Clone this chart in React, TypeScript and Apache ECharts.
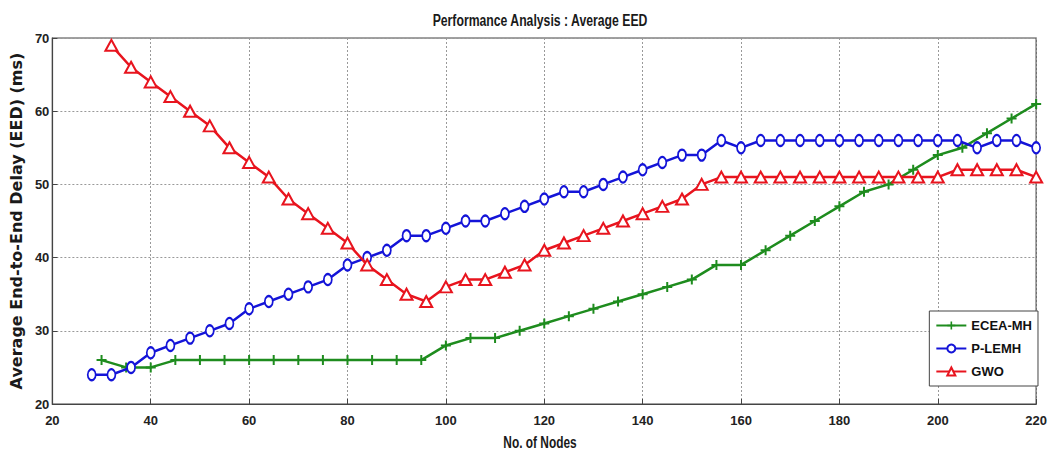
import React, { useEffect, useRef } from "react";
import * as echarts from "echarts";

const titleText = "Performance Analysis : Average EED";
const xName = "No. of Nodes";
const yName = "Average End-to-End Delay (EED) (ms)";

const ecaX = [30, 35, 40, 45, 50, 55, 60, 65, 70, 75, 80, 85, 90, 95, 100, 105, 110, 115, 120, 125, 130, 135, 140, 145, 150, 155, 160, 165, 170, 175, 180, 185, 190, 195, 200, 205, 210, 215, 220];
const ecaY = [26, 25, 25, 26, 26, 26, 26, 26, 26, 26, 26, 26, 26, 26, 28, 29, 29, 30, 31, 32, 33, 34, 35, 36, 37, 39, 39, 41, 43, 45, 47, 49, 50, 52, 54, 55, 57, 59, 61];

const plemhX = [28, 32, 36, 40, 44, 48, 52, 56, 60, 64, 68, 72, 76, 80, 84, 88, 92, 96, 100, 104, 108, 112, 116, 120, 124, 128, 132, 136, 140, 144, 148, 152, 156, 160, 164, 168, 172, 176, 180, 184, 188, 192, 196, 200, 204, 208, 212, 216, 220];
const plemhY = [24, 24, 25, 27, 28, 29, 30, 31, 33, 34, 35, 36, 37, 39, 40, 41, 43, 43, 44, 45, 45, 46, 47, 48, 49, 49, 50, 51, 52, 53, 54, 54, 56, 55, 56, 56, 56, 56, 56, 56, 56, 56, 56, 56, 56, 55, 56, 56, 55];

const gwoX = [32, 36, 40, 44, 48, 52, 56, 60, 64, 68, 72, 76, 80, 84, 88, 92, 96, 100, 104, 108, 112, 116, 120, 124, 128, 132, 136, 140, 144, 148, 152, 156, 160, 164, 168, 172, 176, 180, 184, 188, 192, 196, 200, 204, 208, 212, 216, 220];
const gwoY = [69, 66, 64, 62, 60, 58, 55, 53, 51, 48, 46, 44, 42, 39, 37, 35, 34, 36, 37, 37, 38, 39, 41, 42, 43, 44, 45, 46, 47, 48, 50, 51, 51, 51, 51, 51, 51, 51, 51, 51, 51, 51, 51, 52, 52, 52, 52, 51];

const pair = (xs: number[], ys: number[]) => xs.map((x, i) => [x, ys[i]]);

const FONT = "'Liberation Sans', Arial, sans-serif";
const WIDE = "'DejaVu Sans', sans-serif";
const GREEN = "#1e8c1e";
const BLUE = "#1414d8";
const RED = "#e8141e";
const PLUS = "path://M4,0 L6,0 L6,4 L10,4 L10,6 L6,6 L6,10 L4,10 L4,6 L0,6 L0,4 L4,4 Z";

export default function App() {
  const ref = useRef<HTMLDivElement>(null);
  useEffect(() => {
    if (!ref.current) return;
    const chart = echarts.init(ref.current, null, { renderer: "svg" });
    chart.setOption({
      animation: false,
      backgroundColor: "#ffffff",
      graphic: [
        {
          type: "text",
          x: 540,
          y: 20,
          scaleX: 0.72,
          style: {
            text: titleText,
            fontFamily: FONT,
            fontSize: 17,
            fontWeight: "bold",
            fill: "#1a1a1a",
            align: "center",
            verticalAlign: "middle",
          },
        },
        {
          type: "text",
          x: 540,
          y: 442,
          scaleX: 0.7,
          style: {
            text: xName,
            fontFamily: FONT,
            fontSize: 17,
            fontWeight: "bold",
            fill: "#1a1a1a",
            align: "center",
            verticalAlign: "middle",
          },
        },
      ],
      grid: {
        left: 44,
        right: 11,
        top: 38,
        bottom: 49,
        show: true,
        borderColor: "#444",
        borderWidth: 1.2,
        backgroundColor: "#fff",
      },
      legend: {
        right: 12,
        top: 311,
        orient: "vertical",
        backgroundColor: "#fff",
        borderColor: "#444",
        borderWidth: 1,
        borderRadius: 0,
        padding: [8, 6, 8, 6],
        itemGap: 10,
        itemWidth: 30,
        itemHeight: 10,
        textStyle: { fontFamily: FONT, fontSize: 13, fontWeight: "bold", color: "#111" },
        data: ["ECEA-MH", "P-LEMH", "GWO"],
      },
      xAxis: {
        type: "value",
        min: 20,
        max: 220,
        interval: 20,
        axisLine: { show: true, lineStyle: { color: "#444", width: 1.2 } },
        axisTick: { show: true, inside: true, length: 5, lineStyle: { color: "#444" } },
        axisLabel: { fontFamily: FONT, fontSize: 13, fontWeight: "bold", color: "#222", margin: 10 },
        splitLine: { show: true, lineStyle: { color: "#999", type: [2, 2], width: 1 } },
      },
      yAxis: {
        type: "value",
        min: 20,
        max: 70,
        interval: 10,
        name: yName,
        nameLocation: "middle",
        nameGap: 19,
        nameTextStyle: { fontFamily: WIDE, fontSize: 16, fontWeight: "bold", color: "#1a1a1a" },
        axisLine: { show: true, lineStyle: { color: "#444", width: 1.2 } },
        axisTick: { show: true, inside: true, length: 5, lineStyle: { color: "#444" } },
        axisLabel: { fontFamily: FONT, fontSize: 13, fontWeight: "bold", color: "#222", margin: 3 },
        splitLine: { show: true, lineStyle: { color: "#999", type: [2, 2], width: 1 } },
      },
      series: [
        {
          name: "ECEA-MH",
          type: "line",
          data: pair(ecaX, ecaY),
          symbol: PLUS,
          symbolSize: 10,
          lineStyle: { color: GREEN, width: 2.5 },
          itemStyle: { color: GREEN },
          z: 3,
        },
        {
          name: "P-LEMH",
          type: "line",
          data: pair(plemhX, plemhY),
          symbol: "circle",
          symbolSize: [8, 11],
          lineStyle: { color: BLUE, width: 2.5 },
          itemStyle: { color: "#ffffff", borderColor: BLUE, borderWidth: 2 },
          z: 4,
        },
        {
          name: "GWO",
          type: "line",
          data: pair(gwoX, gwoY),
          symbol: "triangle",
          symbolSize: [12, 11],
          lineStyle: { color: RED, width: 2.5 },
          itemStyle: { color: "#ffffff", borderColor: RED, borderWidth: 2 },
          z: 5,
        },
      ],
    });
    return () => chart.dispose();
  }, []);
  return (
    <div
      ref={ref}
      style={{ position: "fixed", left: 0, top: 0, width: 1050, height: 453, background: "#fff" }}
    />
  );
}
